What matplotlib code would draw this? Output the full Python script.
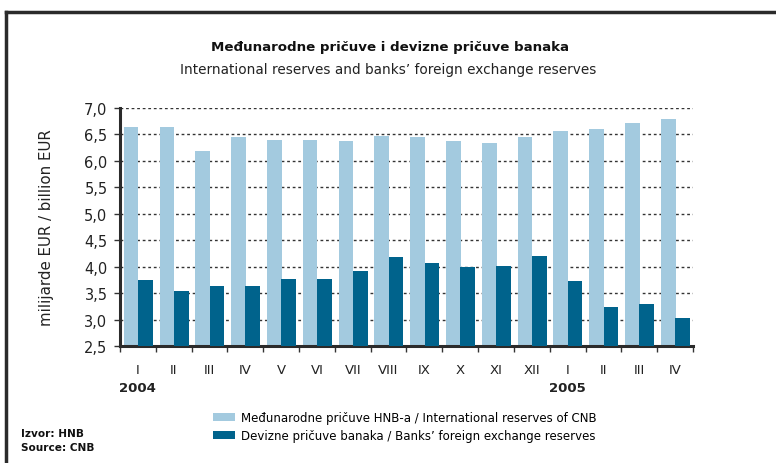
import matplotlib
matplotlib.use("Agg")
import matplotlib.pyplot as plt
import numpy as np
from matplotlib.lines import Line2D
from matplotlib.patches import Patch

plt.rcParams['font.family'] = ['DejaVu Sans']

# podaci (milijarde EUR)
mjeseci = ['I', 'II', 'III', 'IV', 'V', 'VI', 'VII', 'VIII', 'IX', 'X', 'XI', 'XII',
           'I', 'II', 'III', 'IV']
godine = {0: '2004', 12: '2005'}
medjunarodne = [6.64, 6.64, 6.19, 6.45, 6.40, 6.40, 6.38, 6.47, 6.45, 6.37, 6.34, 6.45,
                6.56, 6.60, 6.72, 6.79]
devizne = [3.75, 3.54, 3.63, 3.63, 3.77, 3.77, 3.92, 4.18, 4.07, 4.00, 4.01, 4.20,
           3.73, 3.24, 3.29, 3.03]

svijetla = '#a3cadf'
tamna = '#00638c'

fig = plt.figure(figsize=(7.76, 4.64), dpi=100)
ax = fig.add_axes([0.1546, 0.2522, 0.7384, 0.5128])

x = np.arange(len(mjeseci))
sirina = 0.41
ax.bar(x - 0.19, np.array(medjunarodne) - 2.5, bottom=2.5, width=sirina, color=svijetla, zorder=2)
ax.bar(x + 0.21, np.array(devizne) - 2.5, bottom=2.5, width=sirina, color=tamna, zorder=3)

ax.set_xlim(-0.5, len(mjeseci) - 0.5)
ax.set_ylim(2.5, 7.0)
ax.set_yticks(np.arange(2.5, 7.01, 0.5))
ax.set_yticklabels([f'{v:.1f}'.replace('.', ',') for v in np.arange(2.5, 7.01, 0.5)],
                   fontsize=10.5, color='#222222')
ax.yaxis.grid(True, linestyle=(0, (2, 2)), color='#333333', linewidth=1.0, zorder=1)
ax.set_axisbelow(True)

ax.set_xticks(np.arange(-0.5, len(mjeseci)))
ax.set_xticklabels([])
ax.tick_params(axis='x', length=4, width=1, color='#333333', direction='out')
ax.tick_params(axis='y', length=4, width=1, color='#333333', pad=5)

for s in ['top', 'right']:
    ax.spines[s].set_visible(False)
for s in ['left', 'bottom']:
    ax.spines[s].set_linewidth(2.2)
    ax.spines[s].set_color('#2b2b2b')

for i, m in enumerate(mjeseci):
    ax.text(i, -0.1, m, transform=ax.get_xaxis_transform(), ha='center', va='center',
            fontsize=9.5, color='#222222')
for i, g in godine.items():
    ax.text(i, -0.175, g, transform=ax.get_xaxis_transform(), ha='center', va='center',
            fontsize=9.5, fontweight='bold', color='#222222')

ax.set_ylabel('milijarde EUR / billion EUR', fontsize=10.8, labelpad=22, color='#222222')

fig.text(0.503, 0.898, 'Međunarodne pričuve i devizne pričuve banaka', ha='center', va='center',
         fontsize=9.6, fontweight='bold', color='#111111')
fig.text(0.5, 0.849, 'International reserves and banks\u2019 foreign exchange reserves',
         ha='center', va='center', fontsize=9.8, color='#222222')

# legenda
legenda = [Patch(facecolor=svijetla, label='Međunarodne pričuve HNB-a / International reserves of CNB'),
           Patch(facecolor=tamna, label='Devizne pričuve banaka / Banks\u2019 foreign exchange reserves')]
fig.legend(handles=legenda, loc='upper left', bbox_to_anchor=(0.268, 0.122), frameon=False,
           fontsize=8.5, handlelength=1.86, handleheight=0.68, handletextpad=0.55, labelspacing=0.4,
           borderaxespad=0)

fig.text(0.027, 0.064, 'Izvor: HNB', fontsize=7.6, fontweight='bold', va='center', color='#111111')
fig.text(0.027, 0.034, 'Source: CNB', fontsize=7.6, fontweight='bold', va='center', color='#111111')

# okvir
fig.add_artist(Line2D([6 / 776, 6 / 776], [0, 1 - 13 / 464], color='#2b2b2b', linewidth=2.5))
fig.add_artist(Line2D([6 / 776, 1], [1 - 13 / 464, 1 - 13 / 464], color='#2b2b2b', linewidth=2.5))

fig.savefig('out.png', dpi=100)
